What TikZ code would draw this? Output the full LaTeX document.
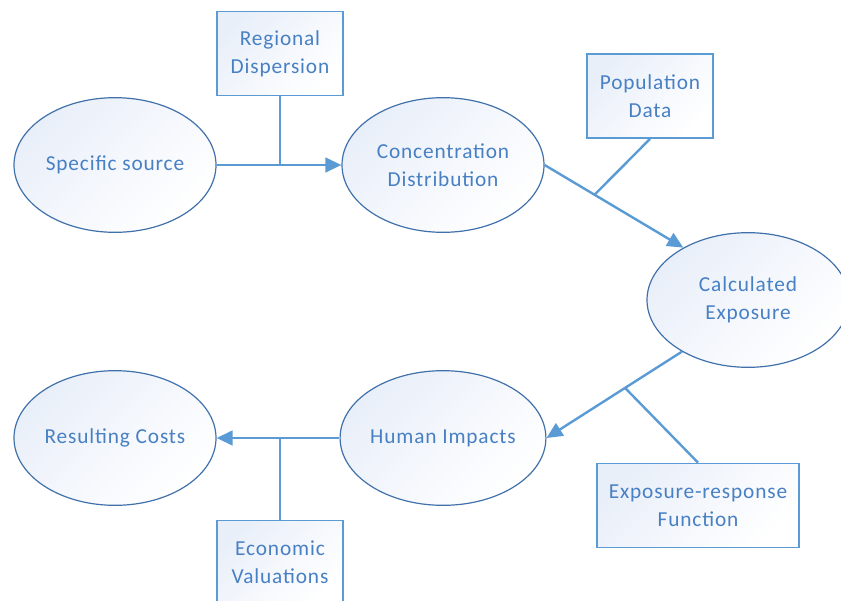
\documentclass[tikz,border=0pt]{standalone}
\usepackage{fontspec}
\setmainfont[LetterSpace=4]{Carlito}
\usepackage{tikz}
\usetikzlibrary{arrows.meta,shapes,positioning,calc}
\definecolor{flowline}{RGB}{91,155,213}
\definecolor{flowedge}{RGB}{65,113,170}
\definecolor{flowtext}{RGB}{72,128,196}
\definecolor{flowpale}{RGB}{233,239,249}
\tikzstyle{link} = [line width=1.8pt,color=flowline]
\tikzstyle{arrow} = [link,-{Triangle[length=12pt,width=11pt]}]
\tikzstyle{stage} = [ellipse, inner sep=0pt, minimum width=151.5pt, minimum height=101pt, text centered, align=center, draw=flowedge, line width=0.9pt, top color=flowpale, bottom color=white, shading angle=45, text=flowtext, font=\fontsize{16}{21}\selectfont]
\tikzstyle{input} = [rectangle, minimum width=95pt, minimum height=63pt, text centered, align=center, draw=flowline, line width=1.3pt, top color=flowpale, bottom color=white, shading angle=45, text=flowtext, font=\fontsize{16}{21}\selectfont]

\begin{document}
\begin{tikzpicture}[x=0.75pt, y=-0.75pt]
\useasboundingbox (0,0) rectangle (841,600);
% Stages
\node (source) [stage] at (115,165) {Specific source};
\node (conc) [stage] at (443,165) {Concentration\\Distribution};
\node (calc) [stage] at (748,300) {Calculated\\Exposure};
\node (human) [stage] at (443,438) {Human Impacts};
\node (costs) [stage] at (115,438) {Resulting Costs};

% Inputs
\node (regional) [input] at (280,53.5) {Regional\\Dispersion};
\node (popdata) [input] at (650,96) {Population\\Data};
\node (erf) [input, minimum width=151.5pt] at (698,505.5) {Exposure-response\\Function};
\node (econ) [input] at (280,562.5) {Economic\\Valuations};

% Main chain
\draw[arrow] (source.east) -- (conc.west);
\draw[arrow] (conc.east) -- (calc.141);
\draw[arrow] (calc.218) -- (human.east);
\draw[arrow] (human.west) -- (costs.east);

% Inputs joining the chain
\coordinate (j1) at (regional.south |- source.east);
\coordinate (j2) at ($(conc.east)!0.36!(calc.141)$);
\coordinate (j3) at ($(calc.218)!0.42!(human.east)$);
\coordinate (j4) at (econ.north |- human.west);
\draw[link] (regional.south) -- (j1);
\draw[link] (popdata.south) -- (j2);
\draw[link] (erf.north) -- (j3);
\draw[link] (econ.north) -- (j4);
\end{tikzpicture}
\end{document}
